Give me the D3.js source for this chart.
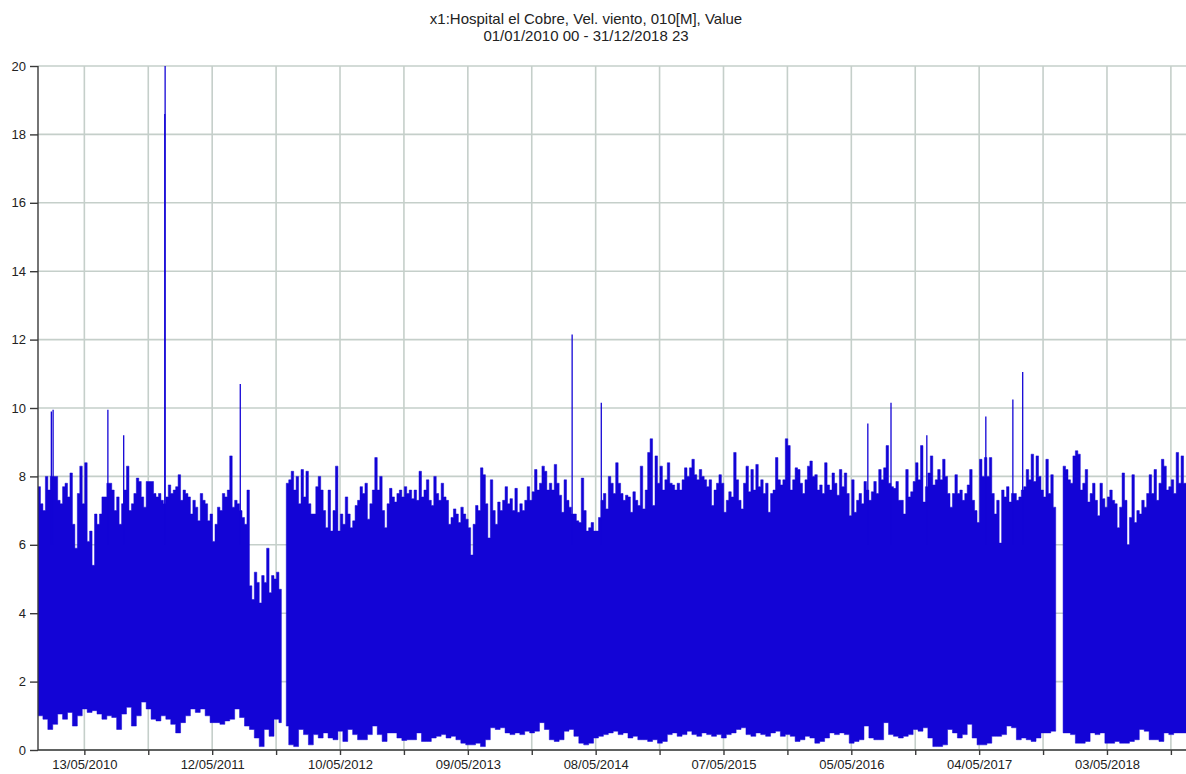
<!DOCTYPE html>
<html>
<head>
<meta charset="utf-8">
<script src="https://cdn.jsdelivr.net/npm/d3@7"></script>
<style>
  html, body { margin: 0; padding: 0; background: #fff; }
  svg { display: block; font-family: "Liberation Sans", Arial, Helvetica, sans-serif; }
  .grid line { stroke: #c5cfca; stroke-width: 1.6; }
  .axis path, .axis line { stroke: #3a3a3a; stroke-width: 1.4; }
  .axis text { fill: #222; font-size: 13px; }
</style>
</head>
<body>
<svg id="chart"></svg>
<script>
const startDate = new Date(2010, 0, 1, 0);
const endDate = new Date(2018, 11, 31, 23);
const hiDays = 7;
const loDays = 14;

const upper = [
  7.7, 7.2, 7.0, 8.0, 7.6, 8.0, 8.0, 8.0, 7.3, 7.2,
  7.7, 7.8, 7.4, 8.1, 6.6, 5.9, 7.5, 8.3, 7.2, 8.4,
  6.1, 6.4, 5.4, 6.9, 6.6, 6.9, 7.4, 7.4, 7.8, 7.8,
  7.6, 7.0, 7.4, 6.6, 7.2, 7.6, 8.3, 7.0, 7.2, 7.5,
  7.95, 7.85, 7.4, 7.1, 7.85, 7.85, 7.85, 7.5, 7.4, 7.5,
  7.3, 7.2, 7.4, 7.75, 7.5, 7.6, 7.7, 8.05, 7.3, 7.6,
  7.5, 7.4, 6.9, 7.3, 7.1, 6.7, 7.5, 7.3, 7.2, 6.7,
  6.9, 6.1, 6.6, 7.1, 7.0, 7.5, 7.4, 7.6, 8.6, 7.1,
  7.3, 7.2, 7.0, 6.8, 6.6, 7.6, 4.8, 4.4, 5.2, 4.9,
  4.3, 5.1, 4.9, 5.9, 4.6, 5.1, 5.0, 5.2, 4.7, null,
  null, 7.8, 7.9, 8.15, 7.6, 8.0, 7.2, 8.2, 7.4, 8.15,
  7.2, 6.9, 6.9, 7.7, 8.0, 7.6, 7.0, 6.5, 7.6, 6.4,
  7.0, 8.3, 6.4, 6.9, 6.6, 7.4, 6.9, 6.5, 6.7, 7.15,
  7.3, 7.7, 7.5, 7.8, 6.75, 7.2, 7.6, 8.55, 7.6, 8.0,
  7.0, 6.5, 7.2, 7.65, 7.4, 7.25, 7.5, 7.6, 7.4, 7.7,
  7.5, 7.6, 7.35, 7.6, 7.3, 8.15, 7.4, 7.6, 7.9, 7.3,
  7.15, 8.0, 7.5, 7.3, 7.8, 7.4, 7.3, 6.6, 6.8, 7.05,
  6.9, 6.65, 7.1, 6.9, 6.75, 6.5, 5.7, 6.6, 7.15, 7.0,
  8.25, 8.05, 7.2, 6.2, 7.9, 7.0, 6.6, 7.25, 7.0, 7.3,
  7.7, 7.2, 7.35, 7.0, 7.65, 6.95, 7.2, 7.0, 7.3, 7.7,
  7.3, 7.55, 8.2, 7.6, 7.8, 8.3, 8.15, 7.6, 7.8, 7.6,
  8.35, 7.8, 7.45, 6.95, 7.9, 7.3, 7.1, 6.9, 6.9, 6.7,
  6.65, 7.95, 7.0, 6.4, 6.5, 6.65, 6.4, 6.4, 6.8, 7.3,
  7.5, 7.05, 8.0, 7.8, 7.5, 8.4, 7.8, 7.5, 7.3, 7.45,
  7.4, 6.95, 7.55, 7.3, 7.15, 8.3, 7.05, 7.6, 8.7, 9.1,
  7.15, 8.6, 7.8, 8.3, 7.6, 7.9, 8.4, 7.8, 7.75, 7.6,
  7.8, 7.6, 7.9, 8.25, 8.0, 8.25, 8.5, 8.05, 7.9, 8.2,
  8.0, 7.9, 7.7, 7.9, 7.15, 7.6, 7.8, 8.05, 7.8, 6.95,
  7.3, 7.55, 7.4, 8.7, 7.9, 7.3, 7.05, 7.8, 8.3, 7.55,
  8.2, 7.6, 8.35, 7.7, 7.9, 7.5, 7.8, 6.95, 7.5, 7.6,
  8.55, 7.9, 7.75, 7.9, 9.1, 8.9, 7.6, 7.9, 8.25, 8.2,
  7.8, 7.5, 7.9, 8.3, 8.45, 8.0, 8.05, 7.6, 7.75, 7.5,
  8.4, 7.75, 7.6, 8.1, 7.8, 7.45, 8.2, 7.7, 8.1, 7.5,
  6.85, 7.9, 6.95, 7.3, 7.5, 7.2, 7.85, 7.6, 7.3, 7.55,
  7.85, 7.5, 8.2, 7.9, 8.25, 8.9, 7.8, 7.7, 7.65, 7.85,
  7.3, 7.3, 6.9, 8.2, 7.4, 7.55, 7.85, 8.4, 7.9, 8.9,
  7.25, 7.7, 8.1, 8.6, 7.75, 7.9, 8.2, 7.9, 8.5, 8.0,
  7.5, 7.1, 7.5, 8.05, 7.5, 7.6, 7.3, 7.5, 7.75, 8.2,
  7.3, 7.0, 6.65, 8.5, 8.0, 8.55, 8.0, 8.55, 7.5, 6.9,
  7.3, 6.05, 7.6, 7.4, 7.7, 7.25, 7.5, 7.5, 7.3, 7.4,
  7.6, 7.7, 8.2, 7.9, 8.65, 7.85, 8.6, 8.0, 7.6, 7.4,
  8.5, 7.5, 8.05, 7.1, null, null, null, 8.3, 8.2, 7.9,
  7.8, 8.6, 8.75, 8.65, 7.6, 7.8, 8.2, 7.25, 7.5, 7.8,
  7.3, 6.85, 7.8, 7.35, 7.1, 7.4, 7.6, 7.3, 7.2, 6.5,
  7.1, 8.1, 7.3, 6.0, 6.8, 8.05, 6.65, 7.0, 6.9, 7.3,
  7.1, 7.5, 8.05, 7.5, 8.2, 7.3, 7.8, 8.5, 8.3, 7.6,
  7.7, 7.9, 7.5, 8.7, 7.8, 8.6, 7.8, 7.8, 7.6, 7.8
];

const lower = [
  1.0, 0.9, 0.6, 0.75, 1.05, 0.9, 1.1, 0.7, 1.0, 1.2,
  1.1, 1.15, 1.05, 0.9, 1.0, 0.95, 0.6, 1.05, 1.25, 0.7,
  1.0, 1.4, 1.2, 0.9, 0.85, 1.0, 0.9, 0.75, 0.5, 0.8,
  1.0, 1.2, 1.1, 1.2, 1.0, 0.8, 0.8, 0.75, 0.85, 0.9,
  1.2, 0.95, 0.7, 0.6, 0.35, 0.1, 0.6, 0.4, 0.9, 0.8,
  0.7, 0.15, 0.1, 0.6, 0.45, 0.15, 0.45, 0.35, 0.5, 0.35,
  0.3, 0.55, 0.25, 0.6, 0.45, 0.3, 0.3, 0.45, 0.7, 0.45,
  0.25, 0.5, 0.5, 0.35, 0.28, 0.3, 0.3, 0.5, 0.25, 0.25,
  0.35, 0.4, 0.45, 0.35, 0.4, 0.3, 0.2, 0.15, 0.15, 0.2,
  0.1, 0.3, 0.65, 0.6, 0.65, 0.5, 0.45, 0.5, 0.45, 0.55,
  0.5, 0.55, 0.8, 0.6, 0.3, 0.25, 0.3, 0.55, 0.6, 0.4,
  0.2, 0.15, 0.2, 0.35, 0.4, 0.45, 0.5, 0.55, 0.45, 0.5,
  0.35, 0.4, 0.3, 0.3, 0.25, 0.3, 0.2, 0.25, 0.45, 0.5,
  0.4, 0.45, 0.55, 0.45, 0.4, 0.5, 0.45, 0.4, 0.45, 0.35,
  0.45, 0.5, 0.6, 0.65, 0.45, 0.4, 0.5, 0.45, 0.4, 0.5,
  0.55, 0.4, 0.45, 0.4, 0.25, 0.3, 0.4, 0.35, 0.2, 0.25,
  0.35, 0.5, 0.45, 0.5, 0.45, 0.2, 0.25, 0.3, 0.7, 0.35,
  0.3, 0.3, 0.8, 0.45, 0.4, 0.35, 0.4, 0.45, 0.6, 0.55,
  0.65, 0.35, 0.1, 0.1, 0.15, 0.6, 0.5, 0.35, 0.45, 0.75,
  0.35, 0.15, 0.15, 0.2, 0.4, 0.4, 0.45, 0.7, 0.65, 0.3,
  0.35, 0.3, 0.25, 0.35, 0.5, 0.5, 0.55, null, 0.5, 0.5,
  0.45, 0.2, 0.2, 0.25, 0.5, 0.45, 0.5, 0.2, 0.2, 0.25,
  0.2, 0.2, 0.25, 0.3, 0.6, 0.55, 0.3, 0.3, 0.25, 0.5,
  0.45, 0.5, 0.5, 0.5, 0.5
];

// single hours that stick out above the weekly envelope
const spikeDates = [
  "2010-02-08", "2010-02-13", "2010-07-19", "2010-09-02", "2010-12-28", "2010-12-29",
  "2011-07-31", "2014-03-02", "2014-05-24", "2016-06-21", "2016-08-26",
  "2016-12-06", "2017-05-23", "2017-08-08", "2017-09-05"
];
const spikeValues = [
  9.9, 9.95, 9.95, 9.2, 18.6, 21,
  10.7, 12.15, 10.15, 9.55, 10.15,
  9.2, 9.75, 10.25, 11.05
];

const yTicks = [0, 2, 4, 6, 8, 10, 12, 14, 16, 18, 20];
const xTickDates = [
  "2010-05-13", "2010-11-11", "2011-05-12", "2011-11-10", "2012-05-10", "2012-11-08",
  "2013-05-09", "2013-11-07", "2014-05-08", "2014-11-06", "2015-05-07", "2015-11-05",
  "2016-05-05", "2016-11-03", "2017-05-04", "2017-11-02", "2018-05-03", "2018-11-01"
];
const xTickLabels = [
  "13/05/2010", "", "12/05/2011", "", "10/05/2012", "",
  "09/05/2013", "", "08/05/2014", "", "07/05/2015", "",
  "05/05/2016", "", "04/05/2017", "", "03/05/2018", ""
];

const titleLines = [
  "x1:Hospital el Cobre, Vel. viento, 010[M], Value",
  "01/01/2010 00 - 31/12/2018 23"
];

const width = 1186, height = 774;
const margin = { top: 66, left: 38, bottom: 24 };
const plotRight = 1192.3;
const blue = "#1304d6";

const parse = d3.timeParse("%Y-%m-%d");

const svg = d3.select("#chart").attr("width", width).attr("height", height);

const x = d3.scaleTime().domain([startDate, endDate]).range([margin.left, plotRight]);
const y = d3.scaleLinear().domain([0, 20]).range([height - margin.bottom, margin.top]);

svg.append("defs").append("clipPath").attr("id", "plotClip")
  .append("rect")
  .attr("x", margin.left).attr("y", margin.top)
  .attr("width", plotRight - margin.left)
  .attr("height", y(0) - margin.top);

// grid
const grid = svg.append("g").attr("class", "grid");
grid.selectAll(".h").data(yTicks).join("line")
  .attr("x1", margin.left).attr("x2", plotRight)
  .attr("y1", d => y(d)).attr("y2", d => y(d));
grid.selectAll(".v").data(xTickDates.map(parse)).join("line")
  .attr("x1", d => x(d)).attr("x2", d => x(d))
  .attr("y1", margin.top).attr("y2", y(0));

// weekly bins -> two points each so the area steps
const bins = upper.map((hi, i) => ({
  t0: d3.timeDay.offset(startDate, i * hiDays),
  t1: d3.timeDay.offset(startDate, (i + 1) * hiDays),
  hi: hi,
  lo: lower[Math.floor(i * hiDays / loDays)]
}));
const pts = bins.flatMap(b => [
  { t: b.t0, hi: b.hi, lo: b.lo },
  { t: b.t1 > endDate ? endDate : b.t1, hi: b.hi, lo: b.lo }
]);

const area = d3.area()
  .defined(d => d.hi != null && d.lo != null)
  .x(d => x(d.t))
  .y0(d => y(d.lo))
  .y1(d => y(d.hi));

const plot = svg.append("g").attr("clip-path", "url(#plotClip)");
plot.append("path")
  .datum(pts)
  .attr("fill", blue)
  .attr("stroke", blue)
  .attr("stroke-width", 0.5)
  .attr("d", area);

plot.selectAll(".spike")
  .data(spikeDates.map((d, i) => ({ t: parse(d), v: spikeValues[i] })))
  .join("line")
  .attr("x1", d => x(d.t)).attr("x2", d => x(d.t))
  .attr("y1", y(6)).attr("y2", d => y(d.v))
  .attr("stroke", blue)
  .attr("stroke-width", 1.3);

// axes
const yAxis = svg.append("g").attr("class", "axis")
  .attr("transform", `translate(${margin.left},0)`)
  .call(d3.axisLeft(y).tickValues(yTicks).tickSize(8).tickPadding(4).tickFormat(d3.format("d")));
yAxis.select(".domain").attr("d", `M0,${margin.top}V${y(0)}`);

const xAxis = svg.append("g").attr("class", "axis")
  .attr("transform", `translate(0,${y(0)})`)
  .call(d3.axisBottom(x).tickValues(xTickDates.map(parse)).tickSize(5).tickPadding(5)
    .tickFormat((d, i) => xTickLabels[i]));
xAxis.select(".domain").attr("d", `M${margin.left},0H${plotRight}`);

// title
svg.append("g").selectAll("text").data(titleLines).join("text")
  .attr("x", 586)
  .attr("y", (d, i) => 23.5 + i * 17)
  .attr("text-anchor", "middle")
  .attr("fill", "#222")
  .attr("font-size", 15)
  .text(d => d);
</script>
</body>
</html>
